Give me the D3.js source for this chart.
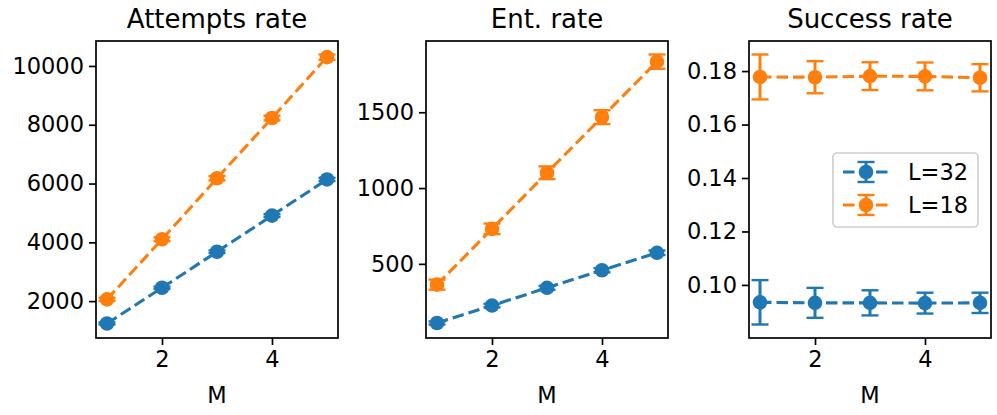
<!DOCTYPE html>
<html>
<head>
<meta charset="utf-8">
<script src="https://cdn.jsdelivr.net/npm/d3@7"></script>
<style>
  body { margin: 0; background: #fff; }
  text { font-family: "DejaVu Sans", sans-serif; fill: #000; }
</style>
</head>
<body>
<svg id="chart" width="997" height="415"></svg>
<script>
const M = [1, 2, 3, 4, 5];
const seriesNames = ["L=32", "L=18"];
const colors = ["#1f77b4", "#ff7f0e"];
const titles = ["Attempts rate", "Ent. rate", "Success rate"];

// Attempts rate
const attemptsL32 = [1240, 2455, 3680, 4910, 6140];
const attemptsL32Err = [35, 40, 45, 50, 55];
const attemptsL18 = [2060, 4105, 6180, 8230, 10300];
const attemptsL18Err = [55, 65, 75, 80, 90];

// Ent. rate
const entL32 = [110, 225, 342, 458, 573];
const entL32Err = [10, 12, 13, 14, 15];
const entL18 = [363, 731, 1101, 1468, 1834];
const entL18Err = [33, 35, 42, 46, 47];

// Success rate
const succL32 = [0.0935, 0.0933, 0.0933, 0.0932, 0.0933];
const succL32Err = [0.0083, 0.0056, 0.0047, 0.0039, 0.0038];
const succL18 = [0.1778, 0.1777, 0.1781, 0.1780, 0.1775];
const succL18Err = [0.0084, 0.0060, 0.0052, 0.0052, 0.0051];

const xTicks = [2, 4];
const yTicks = [
  [2000, 4000, 6000, 8000, 10000],
  [500, 1000, 1500],
  [0.10, 0.12, 0.14, 0.16, 0.18]
];
const yFormats = [d3.format("d"), d3.format("d"), d3.format(".2f")];

const panels = [
  [[attemptsL32, attemptsL32Err], [attemptsL18, attemptsL18Err]],
  [[entL32, entL32Err], [entL18, entL18Err]],
  [[succL32, succL32Err], [succL18, succL18Err]]
];

const svg = d3.select("#chart");
const lefts = [96, 426, 749];
const pw = 242, plotTop = 41, plotBottom = 338;
const tickFont = "22.5px";

function padDomain(lo, hi) { const r = hi - lo; return [lo - 0.05 * r, hi + 0.05 * r]; }

panels.forEach((series, pi) => {
  const g = svg.append("g").attr("transform", `translate(${lefts[pi]},0)`);
  const xd = padDomain(d3.min(M), d3.max(M));
  const x = d3.scaleLinear().domain(xd).range([0, pw]);
  let lo = Infinity, hi = -Infinity;
  series.forEach(([v, e]) => v.forEach((d, i) => { lo = Math.min(lo, d - e[i]); hi = Math.max(hi, d + e[i]); }));
  const y = d3.scaleLinear().domain(padDomain(lo, hi)).range([plotBottom, plotTop]);

  const clipId = "clip" + pi;
  g.append("clipPath").attr("id", clipId).append("rect")
    .attr("x", 0).attr("y", plotTop).attr("width", pw).attr("height", plotBottom - plotTop);
  const plot = g.append("g").attr("clip-path", `url(#${clipId})`);

  series.forEach(([vals, errs], si) => {
    const c = colors[si];
    const pts = M.map((m, i) => ({ m, v: vals[i], e: errs[i] }));
    const sg = plot.append("g");
    sg.append("path").datum(pts)
      .attr("d", d3.line().x(d => x(d.m)).y(d => y(d.v)))
      .attr("fill", "none").attr("stroke", c).attr("stroke-width", 3.1)
      .attr("stroke-dasharray", "11.5,5");
    sg.selectAll(".eb").data(pts).enter().append("line")
      .attr("x1", d => x(d.m)).attr("x2", d => x(d.m))
      .attr("y1", d => y(d.v - d.e)).attr("y2", d => y(d.v + d.e))
      .attr("stroke", c).attr("stroke-width", 3);
    [-1, 1].forEach(s => {
      sg.selectAll(".cap" + s).data(pts).enter().append("line")
        .attr("x1", d => x(d.m) - 8.5).attr("x2", d => x(d.m) + 8.5)
        .attr("y1", d => y(d.v + s * d.e)).attr("y2", d => y(d.v + s * d.e))
        .attr("stroke", c).attr("stroke-width", 2.4);
    });
    sg.selectAll("circle").data(pts).enter().append("circle")
      .attr("cx", d => x(d.m)).attr("cy", d => y(d.v)).attr("r", 7.3)
      .attr("fill", c);
  });

  // frame
  g.append("rect").attr("x", 0).attr("y", plotTop).attr("width", pw).attr("height", plotBottom - plotTop)
    .attr("fill", "none").attr("stroke", "#000").attr("stroke-width", 1.7);

  // x axis
  const xa = g.append("g").attr("transform", `translate(0,${plotBottom})`)
    .call(d3.axisBottom(x).tickValues(xTicks).tickSize(7).tickPadding(6).tickFormat(d3.format("d")));
  xa.select(".domain").remove();
  xa.selectAll("line").attr("stroke-width", 1.7);
  xa.selectAll("text").style("font-family", "DejaVu Sans").style("font-size", tickFont).attr("fill", "#000");

  // y axis
  const ya = g.append("g")
    .call(d3.axisLeft(y).tickValues(yTicks[pi]).tickSize(7).tickPadding(5).tickFormat(yFormats[pi]));
  ya.select(".domain").remove();
  ya.selectAll("line").attr("stroke-width", 1.7);
  ya.selectAll("text").style("font-family", "DejaVu Sans").style("font-size", tickFont).attr("fill", "#000");

  g.append("text").attr("x", pw / 2).attr("y", 403).attr("text-anchor", "middle")
    .style("font-size", tickFont).text("M");
  g.append("text").attr("x", pw / 2).attr("y", 28).attr("text-anchor", "middle")
    .style("font-size", "26px").text(titles[pi]);

  if (pi === 2) {
    const lg = g.append("g").attr("transform", `translate(${833 - lefts[pi]},153)`);
    lg.append("rect").attr("x", 0).attr("y", 0).attr("width", 145).attr("height", 74)
      .attr("rx", 4).attr("fill", "#fff").attr("fill-opacity", 0.8)
      .attr("stroke", "#d0d0d0").attr("stroke-width", 1.7);
    seriesNames.forEach((name, si) => {
      const cy = 19 + si * 33, c = colors[si];
      const row = lg.append("g");
      row.append("line").attr("x1", 10).attr("x2", 55).attr("y1", cy).attr("y2", cy)
        .attr("stroke", c).attr("stroke-width", 3.1).attr("stroke-dasharray", "11.5,5");
      row.append("line").attr("x1", 33).attr("x2", 33).attr("y1", cy - 10).attr("y2", cy + 10)
        .attr("stroke", c).attr("stroke-width", 3);
      [-10, 10].forEach(o => row.append("line").attr("x1", 24.5).attr("x2", 41.5)
        .attr("y1", cy + o).attr("y2", cy + o).attr("stroke", c).attr("stroke-width", 2.4));
      row.append("circle").attr("cx", 33).attr("cy", cy).attr("r", 7.3).attr("fill", c);
      row.append("text").attr("x", 75).attr("y", cy + 8).style("font-size", tickFont).text(name);
    });
  }
});
</script>
</body>
</html>
